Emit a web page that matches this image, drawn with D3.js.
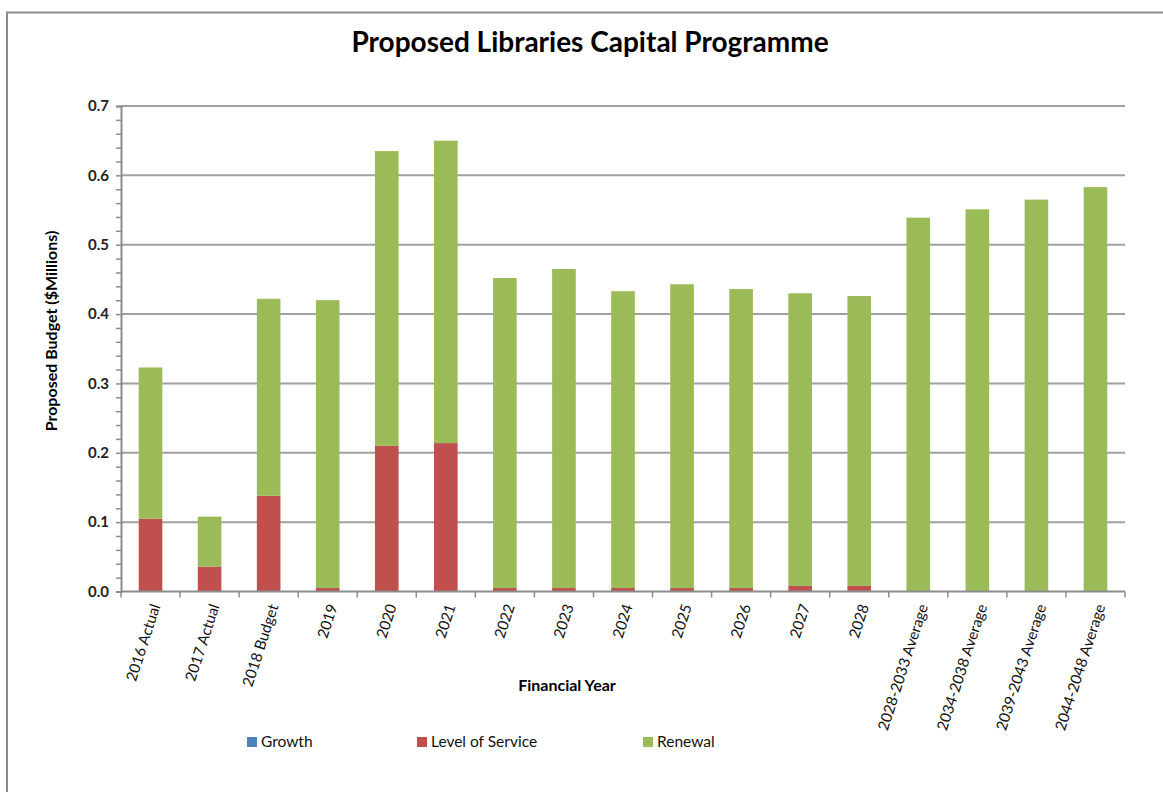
<!DOCTYPE html>
<html>
<head>
<meta charset="utf-8">
<script src="https://cdn.jsdelivr.net/npm/d3@7"></script>
<style>
  html, body { margin: 0; padding: 0; background: #fff; }
  svg { display: block; font-family: Lato, "Open Sans", sans-serif; }
</style>
</head>
<body>
<svg id="chart" width="1163" height="792"></svg>
<script>
// Financial years on the category axis
const categories = [
  "2016 Actual", "2017 Actual", "2018 Budget", "2019", "2020", "2021",
  "2022", "2023", "2024", "2025", "2026", "2027", "2028",
  "2028-2033 Average", "2034-2038 Average", "2039-2043 Average", "2044-2048 Average"
];

// Proposed budget by driver ($ millions)
const growth = [0, 0, 0, 0, 0, 0, 0, 0, 0, 0, 0, 0, 0, 0, 0, 0, 0];
const levelOfService = [0.105, 0.036, 0.138, 0.005, 0.210, 0.214, 0.005, 0.005, 0.005, 0.005, 0.005, 0.008, 0.008, 0, 0, 0, 0];
const renewal = [0.218, 0.072, 0.284, 0.415, 0.425, 0.436, 0.447, 0.460, 0.428, 0.438, 0.431, 0.422, 0.418, 0.539, 0.551, 0.565, 0.583];

const seriesNames = ["Growth", "Level of Service", "Renewal"];
const seriesColors = ["#4F81BD", "#C0504D", "#9BBB59"];
const yTicks = [0, 0.1, 0.2, 0.3, 0.4, 0.5, 0.6, 0.7];

const svg = d3.select("#chart");
const plot = { left: 121, right: 1125, top: 106, bottom: 591.5 };

// Outer chart frame
svg.append("path")
  .attr("d", "M7,800 L7,12.5 L1170,12.5")
  .attr("fill", "none").attr("stroke", "#8c8c8c").attr("stroke-width", 2);

// Title
svg.append("text")
  .attr("x", 590).attr("y", 52)
  .attr("text-anchor", "middle")
  .attr("font-size", 28).attr("font-weight", "bold").attr("fill", "#000")
  .text("Proposed Libraries Capital Programme");

const x = d3.scaleBand().domain(categories).range([plot.left, plot.right]).paddingInner(0.6).paddingOuter(0.3);
const y = d3.scaleLinear().domain([0, 0.7]).range([plot.bottom, plot.top]);

// Horizontal gridlines
svg.append("g").selectAll("line").data(yTicks.slice(1)).join("line")
  .attr("x1", plot.left).attr("x2", plot.right)
  .attr("y1", d => y(d)).attr("y2", d => y(d))
  .attr("stroke", "#a0a0a0").attr("stroke-width", 2);

// Stacked bars
const rows = categories.map((c, i) => ({ cat: c, Growth: growth[i], "Level of Service": levelOfService[i], Renewal: renewal[i] }));
const stack = d3.stack().keys(seriesNames)(rows);
svg.append("g").selectAll("g").data(stack).join("g")
  .attr("fill", (d, i) => seriesColors[i])
  .selectAll("rect").data(d => d.filter(p => p[1] - p[0] > 0)).join("rect")
  .attr("x", d => x(d.data.cat))
  .attr("width", x.bandwidth())
  .attr("y", d => y(d[1]))
  .attr("height", d => y(d[0]) - y(d[1]));

// Y axis with minor ticks
const yAxis = d3.axisLeft(y).tickValues(d3.range(0, 0.7001, 0.02)).tickSize(5).tickFormat(d => {
  const r = Math.round(d * 100);
  return r % 10 === 0 ? d3.format(".1f")(d) : "";
});
const ya = svg.append("g").attr("transform", `translate(${plot.left},0)`).call(yAxis);
ya.select(".domain").attr("stroke", "#8c8c8c").attr("stroke-width", 2);
ya.selectAll(".tick line").attr("stroke", "#8c8c8c").attr("stroke-width", 1.5);
ya.selectAll(".tick text")
  .attr("x", -12)
  .attr("font-size", 15).attr("font-weight", "bold").attr("fill", "#222")
  .attr("font-family", "Lato, sans-serif");

// X axis: baseline with ticks on category boundaries
const xa = svg.append("g");
xa.append("line").attr("x1", plot.left).attr("x2", plot.right)
  .attr("y1", plot.bottom).attr("y2", plot.bottom)
  .attr("stroke", "#8c8c8c").attr("stroke-width", 2);
const step = x.step();
xa.selectAll("line.tk").data(d3.range(categories.length + 1)).join("line")
  .attr("class", "tk")
  .attr("x1", i => plot.left + i * step).attr("x2", i => plot.left + i * step)
  .attr("y1", plot.bottom).attr("y2", plot.bottom + 6)
  .attr("stroke", "#8c8c8c").attr("stroke-width", 1.5);
xa.selectAll("text").data(categories).join("text")
  .attr("transform", d => `translate(${x(d) + x.bandwidth() / 2 + 5},${plot.bottom + 13}) rotate(-72)`)
  .attr("text-anchor", "end").attr("dy", "0.35em")
  .attr("font-size", 15).attr("fill", "#111")
  .text(d => d);

// Axis titles
svg.append("text")
  .attr("transform", `translate(57,331) rotate(-90)`)
  .attr("text-anchor", "middle")
  .attr("font-size", 16).attr("font-weight", "bold")
  .text("Proposed Budget ($Millions)");
svg.append("text")
  .attr("x", 567).attr("y", 691)
  .attr("text-anchor", "middle")
  .attr("font-size", 16).attr("font-weight", "bold")
  .text("Financial Year");

// Legend
const legendX = [247, 417, 643];
const lg = svg.append("g").selectAll("g").data(seriesNames).join("g")
  .attr("transform", (d, i) => `translate(${legendX[i]},742)`);
lg.append("rect").attr("x", 0).attr("y", -5).attr("width", 10).attr("height", 10)
  .attr("fill", (d, i) => seriesColors[i]);
lg.append("text").attr("x", 14).attr("dy", "0.35em")
  .attr("font-size", 15.5).attr("fill", "#111")
  .text(d => d);
</script>
</body>
</html>
